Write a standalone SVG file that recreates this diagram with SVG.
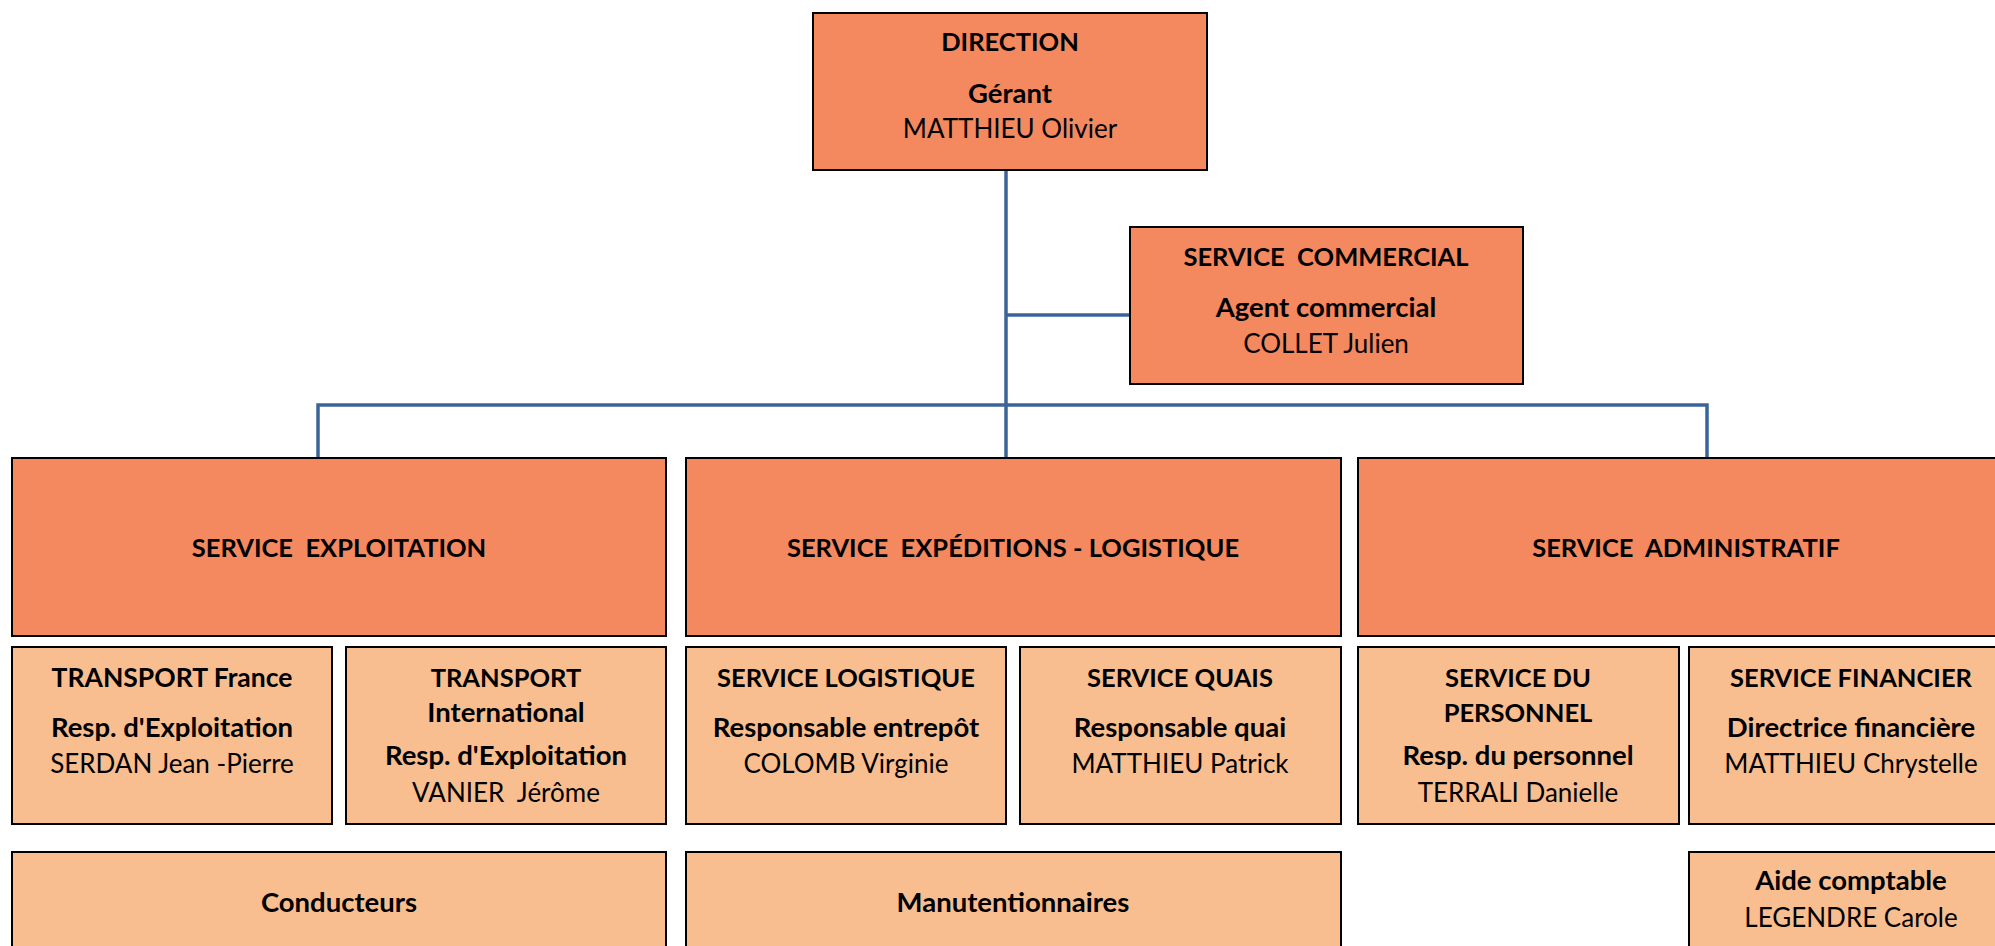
<svg xmlns="http://www.w3.org/2000/svg" width="1995" height="946" viewBox="0 0 1995 946">
<style>
.main{fill:#F4885E;stroke:#000;stroke-width:2}
.sub{fill:#F8BE8F;stroke:#000;stroke-width:2}
.conn{stroke:#3B6598;stroke-width:3.5;fill:none}
text{font-family:Lato,"Liberation Sans",sans-serif;font-size:26px;fill:#000;text-anchor:middle;white-space:pre}
.c{font-weight:bold;font-size:25.5px}
.b{font-weight:bold;font-size:27.5px}
.t{font-weight:bold;font-size:25.5px}
</style>
<rect width="1995" height="946" fill="#fff"/>
<g id="connectors">
<path class="conn" d="M1006 170 V458"/>
<path class="conn" d="M1006 315 H1130"/>
<path class="conn" d="M318 458 V405 H1707 V458"/>
</g>
<g id="direction">
<rect class="main" x="813" y="13" width="394" height="157"/>
<text class="c" x="1010" y="51">DIRECTION</text>
<text class="b" x="1010" y="103">Gérant</text>
<text x="1010" y="138">MATTHIEU Olivier</text>
</g>
<g id="commercial">
<rect class="main" x="1130" y="227" width="393" height="157"/>
<text class="c" x="1326" y="266">SERVICE  COMMERCIAL</text>
<text class="b" x="1326" y="317">Agent commercial</text>
<text x="1326" y="353">COLLET Julien</text>
</g>
<g id="exploitation">
<rect class="main" x="12" y="458" width="654" height="178"/>
<text class="t" x="339" y="557">SERVICE  EXPLOITATION</text>
</g>
<g id="expeditions">
<rect class="main" x="686" y="458" width="655" height="178"/>
<text class="t" x="1013" y="557">SERVICE  EXPÉDITIONS - LOGISTIQUE</text>
</g>
<g id="administratif">
<rect class="main" x="1358" y="458" width="656" height="178"/>
<text class="t" x="1686" y="557">SERVICE  ADMINISTRATIF</text>
</g>
<g id="transport-france">
<rect class="sub" x="12" y="647" width="320" height="177"/>
<text class="b" x="172" y="687" style="font-size:26.5px">TRANSPORT France</text>
<text class="b" x="172" y="737">Resp. d'Exploitation</text>
<text x="172" y="773">SERDAN Jean -Pierre</text>
</g>
<g id="transport-international">
<rect class="sub" x="346" y="647" width="320" height="177"/>
<text class="c" x="506" y="687">TRANSPORT</text>
<text class="b" x="506" y="722">International</text>
<text class="b" x="506" y="765">Resp. d'Exploitation</text>
<text x="506" y="802">VANIER  Jérôme</text>
</g>
<g id="service-logistique">
<rect class="sub" x="686" y="647" width="320" height="177"/>
<text class="c" x="846" y="687">SERVICE LOGISTIQUE</text>
<text class="b" x="846" y="737">Responsable entrepôt</text>
<text x="846" y="773">COLOMB Virginie</text>
</g>
<g id="service-quais">
<rect class="sub" x="1020" y="647" width="321" height="177"/>
<text class="c" x="1180" y="687">SERVICE QUAIS</text>
<text class="b" x="1180" y="737">Responsable quai</text>
<text x="1180" y="773">MATTHIEU Patrick</text>
</g>
<g id="service-personnel">
<rect class="sub" x="1358" y="647" width="321" height="177"/>
<text class="c" x="1518" y="687">SERVICE DU</text>
<text class="c" x="1518" y="722">PERSONNEL</text>
<text class="b" x="1518" y="765">Resp. du personnel</text>
<text x="1518" y="802">TERRALI Danielle</text>
</g>
<g id="service-financier">
<rect class="sub" x="1689" y="647" width="324" height="177"/>
<text class="c" x="1851" y="687">SERVICE FINANCIER</text>
<text class="b" x="1851" y="737">Directrice financière</text>
<text x="1851" y="773">MATTHIEU Chrystelle</text>
</g>
<g id="conducteurs">
<rect class="sub" x="12" y="852" width="654" height="110"/>
<text class="b" x="339" y="912">Conducteurs</text>
</g>
<g id="manutentionnaires">
<rect class="sub" x="686" y="852" width="655" height="110"/>
<text class="b" x="1013" y="912">Manutentionnaires</text>
</g>
<g id="aide-comptable">
<rect class="sub" x="1689" y="852" width="324" height="110"/>
<text class="b" x="1851" y="890">Aide comptable</text>
<text x="1851" y="927">LEGENDRE Carole</text>
</g>
</svg>
